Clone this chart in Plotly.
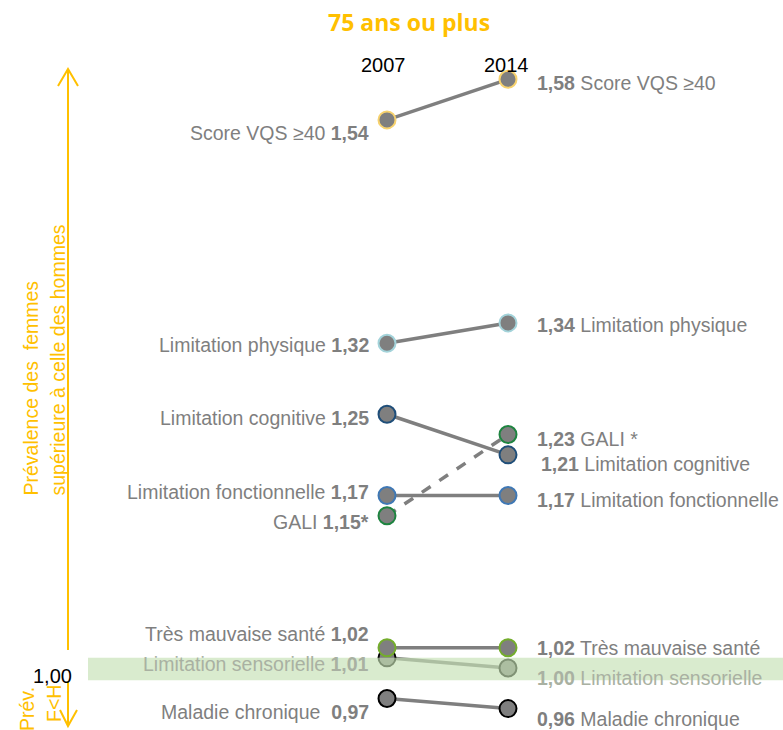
import plotly.graph_objects as go

# ---------------- data ----------------
years = [2007, 2014]
indicators = ["Score VQS \u226540", "Limitation physique", "Limitation cognitive",
              "Limitation fonctionnelle", "GALI", "Très mauvaise santé",
              "Limitation sensorielle", "Maladie chronique"]
ratio_2007 = [1.54, 1.32, 1.25, 1.17, 1.15, 1.02, 1.01, 0.97]
ratio_2014 = [1.58, 1.34, 1.21, 1.17, 1.23, 1.02, 1.00, 0.96]
left_labels = ["Score VQS \u226540 <b>1,54</b>", "Limitation physique <b>1,32</b>",
               "Limitation cognitive <b>1,25</b>", "Limitation fonctionnelle <b>1,17</b>",
               "GALI <b>1,15*</b>", "Très mauvaise santé <b>1,02</b>",
               "Limitation sensorielle <b>1,01</b>", "Maladie chronique\u00a0 <b>0,97</b>"]
right_labels = ["<b>1,58</b> Score VQS \u226540", "<b>1,34</b> Limitation physique",
                "<b>1,21</b> Limitation cognitive", "<b>1,17</b> Limitation fonctionnelle",
                "<b>1,23</b> GALI *", "<b>1,02</b> Très mauvaise santé",
                "<b>1,00</b> Limitation sensorielle", "<b>0,96</b> Maladie chronique"]
reference_value = 1.00

# ---------------- styles ----------------
W, H = 783, 730
GRAY = "#7f7f7f"
YEL = "#ffc000"
FONT = "Liberation Sans Narrow, Arial Narrow, Liberation Sans, Arial, sans-serif"
outline = ["#f7d26e", "#a3d3da", "#1f4e79", "#3f78b5", "#1e8440", "#74ad2c", "#000000", "#000000"]
dashes = ["solid", "solid", "solid", "solid", "dash", "solid", "solid", "solid"]
faded = [False, False, False, False, False, False, True, False]
left_yshift = [-13, -2, -4, 3, -6, 14, -6, -14]
right_yshift = [-4, -2, -9, -5, -4, 0, -10, -10]
right_xshift = [27, 27, 31, 27, 27, 27, 27, 27]
marker_order = [0, 1, 2, 3, 4, 7, 6, 5]


def px(x):
    return x / W


def py(y):
    return 1 - y / H


fig = go.Figure()

# lines first
for i, name in enumerate(indicators):
    fig.add_trace(go.Scatter(
        x=years, y=[ratio_2007[i], ratio_2014[i]], mode="lines",
        line=dict(color=GRAY, width=3.5, dash=dashes[i]),
        hoverinfo="skip", showlegend=False))

# markers
for i in marker_order:
    fig.add_trace(go.Scatter(
        x=years, y=[ratio_2007[i], ratio_2014[i]], mode="markers", name=indicators[i],
        marker=dict(size=17, color=GRAY, line=dict(color=outline[i], width=2)),
        showlegend=False))

annotations = []
for i in range(len(indicators)):
    col = "#a9b1a2" if faded[i] else GRAY
    annotations.append(dict(x=years[0], y=ratio_2007[i], xref="x", yref="y",
                            text=left_labels[i], showarrow=False,
                            xanchor="right", yanchor="middle",
                            xshift=-16, yshift=left_yshift[i],
                            font=dict(family=FONT, size=19.5, color=col)))
    annotations.append(dict(x=years[1], y=ratio_2014[i], xref="x", yref="y",
                            text=right_labels[i], showarrow=False,
                            xanchor="left", yanchor="middle",
                            xshift=right_xshift[i], yshift=right_yshift[i],
                            font=dict(family=FONT, size=19.5, color=col)))

# year headers
for yr, xs in zip(years, [-4, -2]):
    annotations.append(dict(x=yr, y=py(65), xref="x", yref="paper", text=str(yr),
                            showarrow=False, xshift=xs, xanchor="center", yanchor="middle",
                            font=dict(family=FONT, size=20, color="black")))

# title
annotations.append(dict(x=px(409), y=py(22), xref="paper", yref="paper",
                        text="<b>75 ans ou plus</b>", showarrow=False,
                        xanchor="center", yanchor="middle",
                        font=dict(family="Open Sans, sans-serif", size=23, color=YEL)))

# side texts (rotated)
annotations.append(dict(x=px(30), y=py(498), xref="paper", yref="paper",
                        text="Prévalence des\u00a0 femmes", textangle=-90, showarrow=False,
                        xanchor="center", yanchor="bottom",
                        font=dict(family=FONT, size=19.5, color=YEL)))
annotations.append(dict(x=px(57), y=py(498), xref="paper", yref="paper",
                        text="supérieure à celle des hommes", textangle=-90, showarrow=False,
                        xanchor="center", yanchor="bottom",
                        font=dict(family=FONT, size=19.5, color=YEL)))
annotations.append(dict(x=px(52), y=reference_value, xref="paper", yref="y",
                        text="1,00", showarrow=False, yshift=-8,
                        xanchor="center", yanchor="middle",
                        font=dict(family=FONT, size=20, color="black")))
annotations.append(dict(x=px(27), y=py(709), xref="paper", yref="paper",
                        text="Prév.", textangle=-90, showarrow=False,
                        xanchor="center", yanchor="middle",
                        font=dict(family=FONT, size=19.5, color=YEL)))
annotations.append(dict(x=px(54), y=py(704), xref="paper", yref="paper",
                        text="F&lt;H", textangle=-90, showarrow=False,
                        xanchor="center", yanchor="middle",
                        font=dict(family=FONT, size=19.5, color=YEL)))

shapes = [
    # reference band around 1.00
    dict(type="rect", xref="paper", yref="y", x0=px(88), x1=1,
         y0=reference_value - 0.012, y1=reference_value + 0.010,
         fillcolor="rgba(197,224,180,0.65)", line=dict(width=0), layer="above"),
    # upward arrow
    dict(type="line", xref="paper", yref="paper", x0=px(68), x1=px(68), y0=py(650), y1=py(70),
         line=dict(color=YEL, width=2)),
    dict(type="path", xref="paper", yref="paper",
         path=f"M {px(58)},{py(86)} L {px(68)},{py(69)} L {px(78)},{py(86)}",
         line=dict(color=YEL, width=2)),
    # downward arrow
    dict(type="line", xref="paper", yref="paper", x0=px(68), x1=px(68), y0=py(682), y1=py(726),
         line=dict(color=YEL, width=2)),
    dict(type="path", xref="paper", yref="paper",
         path=f"M {px(60)},{py(710)} L {px(68)},{py(726)} L {px(77)},{py(710)}",
         line=dict(color=YEL, width=2)),
]

# pixel scales (2007 at x=387, 2014 at x=508; 1.00 at y=668, 1015 px per unit)
x_per_px = (years[1] - years[0]) / 121.0
y_per_px = 1 / 1015.0
x0_pix = 387
y1_pix = 668
fig.update_layout(
    width=W, height=H, margin=dict(l=0, r=0, t=0, b=0),
    paper_bgcolor="white", plot_bgcolor="white",
    xaxis=dict(range=[years[0] - x0_pix * x_per_px, years[0] + (W - x0_pix) * x_per_px],
               visible=False, fixedrange=True),
    yaxis=dict(range=[reference_value - (H - y1_pix) * y_per_px, reference_value + y1_pix * y_per_px],
               visible=False, fixedrange=True),
    annotations=annotations, shapes=shapes, showlegend=False,
)

fig.write_html("out.html", config={"displayModeBar": False},
               post_script="document.body.style.margin='0';document.body.style.overflow='hidden';")
